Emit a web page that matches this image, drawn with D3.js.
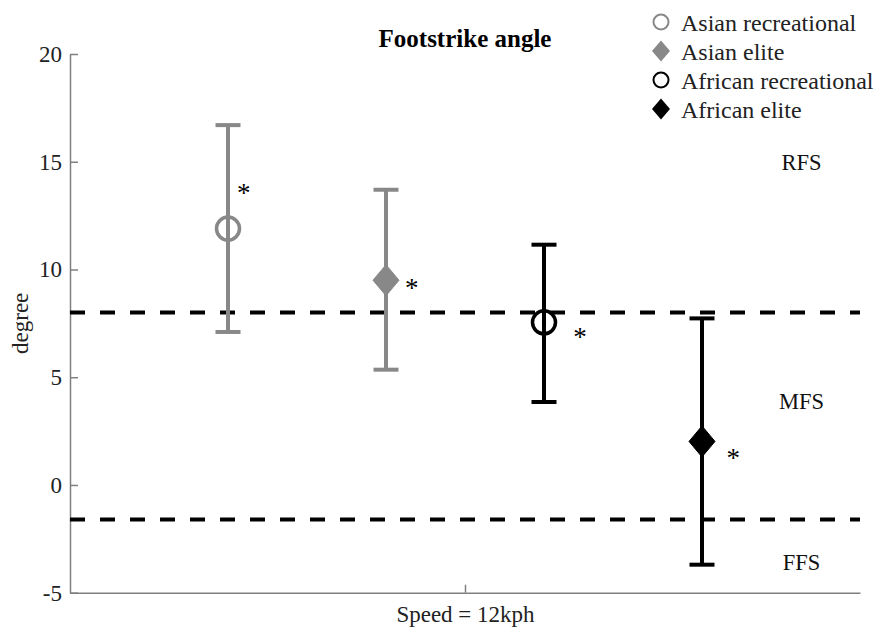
<!DOCTYPE html>
<html>
<head>
<meta charset="utf-8">
<script src="https://cdn.jsdelivr.net/npm/d3@7"></script>
<style>
  html, body { margin: 0; padding: 0; background: #fff; }
  svg { display: block; }
  svg text { font-family: "Liberation Serif", "Times New Roman", serif !important; }
</style>
</head>
<body>
<svg id="chart" width="887" height="633"></svg>
<script>
// Group definitions
const groups = ["Asian recreational", "Asian elite", "African recreational", "African elite"];
const groupPos = [0.2, 0.4, 0.6, 0.8];
const means = [11.9, 9.5, 7.55, 2.02];
const upper = [16.7, 13.7, 11.15, 7.73];
const lower = [7.1, 5.35, 3.85, -3.7];
const colors = ["#888888", "#888888", "#000000", "#000000"];
const shapes = ["circle", "diamond", "circle", "diamond"];

// Significance markers (placed beside each point, in data units)
const starX = [0.220, 0.4325, 0.6456, 0.8397];
const starY = [13.75, 9.34, 7.03, 1.44];

// Footstrike pattern thresholds and region labels
const thresholds = [8, -1.6];
const regionLabels = ["RFS", "MFS", "FFS"];
const regionY = [15, 3.9, -3.6];
const regionX = 0.926;

const yTicks = [-5, 0, 5, 10, 15, 20];
const xTickLabel = "Speed = 12kph";

const FONT = '"Liberation Serif", "Times New Roman", serif';
const svg = d3.select("#chart");
const plotLeft = 70, plotRight = 860, plotTop = 54, plotBottom = 592.7;

const x = d3.scaleLinear().domain([0, 1]).range([plotLeft, plotRight]);
const y = d3.scaleLinear().domain([-5, 20]).range([plotBottom, plotTop]);

// Axes (ticks point into the plot)
const yAxis = d3.axisLeft(y).tickValues(yTicks).tickFormat(d => String(d))
  .tickSizeInner(-8).tickSizeOuter(0).tickPadding(8);
const gy = svg.append("g").attr("transform", `translate(${plotLeft},0)`).call(yAxis);
const xAxis = d3.axisBottom(x).tickValues([0.5]).tickFormat(() => xTickLabel)
  .tickSizeInner(-8).tickSizeOuter(0).tickPadding(10);
const gx = svg.append("g").attr("transform", `translate(0,${plotBottom})`).call(xAxis);
[gx, gy].forEach(g => {
  g.attr("font-family", FONT);
  g.selectAll("path.domain").attr("stroke", "#808080").attr("stroke-width", 1.5);
  g.selectAll(".tick line").attr("stroke", "#808080").attr("stroke-width", 1.5);
  g.selectAll(".tick text").attr("fill", "#222").attr("font-size", 23)
    .style("font-family", FONT);
});
gx.selectAll(".tick text").attr("dy", "0.85em");

// Threshold lines
svg.append("g").selectAll("line").data(thresholds).join("line")
  .attr("x1", x(0)).attr("x2", plotRight)
  .attr("y1", d => y(d)).attr("y2", d => y(d))
  .attr("stroke", "#000").attr("stroke-width", 4)
  .attr("stroke-dasharray", "15 15");

// Error bars
const bars = svg.append("g");
groups.forEach((g, i) => {
  const cx = x(groupPos[i]);
  const c = colors[i];
  const sw = 4, cap = 12.5;
  bars.append("line").attr("x1", cx).attr("x2", cx)
    .attr("y1", y(upper[i])).attr("y2", y(lower[i]))
    .attr("stroke", c).attr("stroke-width", sw);
  [upper[i], lower[i]].forEach(v => {
    bars.append("line").attr("x1", cx - cap).attr("x2", cx + cap)
      .attr("y1", y(v)).attr("y2", y(v))
      .attr("stroke", c).attr("stroke-width", sw);
  });
});

// Markers
function diamondPath(cx, cy, hw, hh) {
  const p = d3.path();
  p.moveTo(cx, cy - hh); p.lineTo(cx + hw, cy); p.lineTo(cx, cy + hh); p.lineTo(cx - hw, cy); p.closePath();
  return p.toString();
}
const marks = svg.append("g");
groups.forEach((g, i) => {
  const cx = x(groupPos[i]), cy = y(means[i]);
  if (shapes[i] === "circle") {
    marks.append("circle").attr("cx", cx).attr("cy", cy).attr("r", 11.5)
      .attr("fill", "none").attr("stroke", colors[i]).attr("stroke-width", 3.5);
  } else {
    marks.append("path").attr("d", diamondPath(cx, cy, 13, 15.5))
      .attr("fill", colors[i]).attr("stroke", colors[i]).attr("stroke-width", 1);
  }
});

// Asterisks
svg.append("g").selectAll("text").data(starX).join("text")
  .attr("x", (d) => x(d)).attr("y", (d, i) => y(starY[i]) + 13)
  .attr("text-anchor", "middle").attr("font-size", 27).attr("fill", "#000")
  .style("font-family", FONT)
  .text("*");

// Region labels
svg.append("g").selectAll("text").data(regionLabels).join("text")
  .attr("x", x(regionX)).attr("y", (d, i) => y(regionY[i]))
  .attr("dy", "0.35em").attr("text-anchor", "middle")
  .attr("font-size", 22.5).attr("fill", "#111").style("font-family", FONT).text(d => d);

// Title
svg.append("text").attr("x", x(0.5)).attr("y", 47).attr("text-anchor", "middle")
  .attr("font-size", 25).attr("font-weight", "bold").attr("fill", "#000")
  .style("font-family", FONT)
  .text("Footstrike angle");

// Y label
svg.append("text").attr("transform", `translate(28,${(y(5) + y(10)) / 2}) rotate(-90)`)
  .attr("text-anchor", "middle").attr("font-size", 23).attr("fill", "#222")
  .style("font-family", FONT)
  .text("degree");

// Legend
const legend = svg.append("g").attr("transform", "translate(661,0)");
groups.forEach((g, i) => {
  const cy = 22 + i * 29;
  if (shapes[i] === "circle") {
    legend.append("circle").attr("cx", 0).attr("cy", cy).attr("r", 7.5)
      .attr("fill", "none").attr("stroke", colors[i]).attr("stroke-width", 2);
  } else {
    legend.append("path").attr("d", diamondPath(0, cy, 9, 10.5)).attr("fill", colors[i]);
  }
  legend.append("text").attr("x", 20).attr("y", cy + 8.5)
    .attr("font-size", 24).attr("fill", "#222").style("font-family", FONT).text(g);
});
</script>
</body>
</html>
